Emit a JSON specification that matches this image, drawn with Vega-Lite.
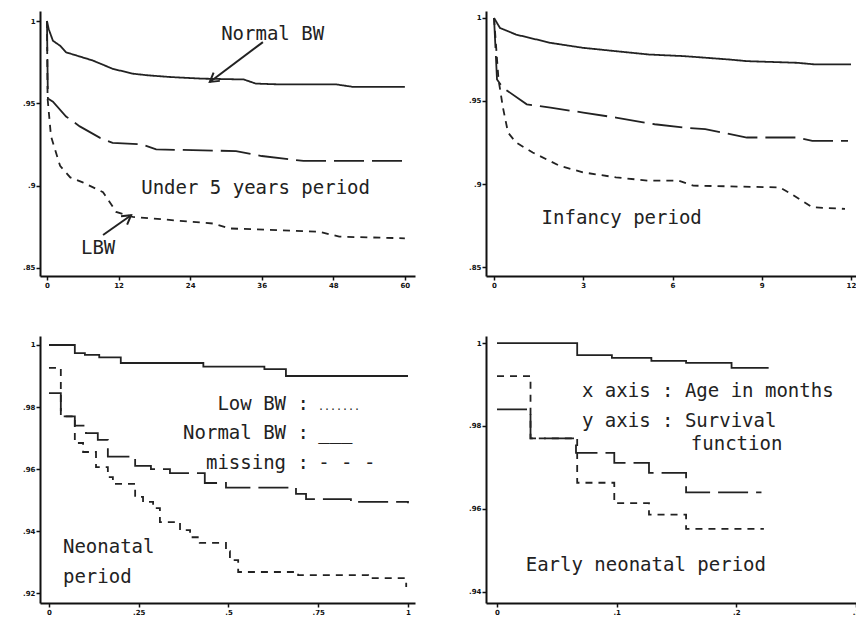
{
  "$schema": "https://vega.github.io/schema/vega-lite/v6.json",
  "background": "white",
  "padding": {"left": 22, "top": 11, "right": 0, "bottom": 0},
  "config": {
    "view": {"stroke": null},
    "axis": {"grid": false, "domainColor": "#111", "domainWidth": 2, "tickColor": "#111", "tickWidth": 1.5, "tickSize": 4, "labelPadding": 1, "labelFontSize": 7, "labelFont": "DejaVu Sans", "labelFontWeight": "bold", "labelColor": "#111", "labelFlush": false, "labelOverlap": false, "title": null,
      "labelExpr": "datum.value > 0 && datum.value < 1 ? slice(toString(datum.value), 1) : toString(datum.value)"},
    "text": {"font": "DejaVu Sans Mono", "fontSize": 19, "color": "#222"}
  },
  "datasets": {
    "curves": [
      {"panel":"u5","group":"Normal BW","t":0,"s":1},{"panel":"u5","group":"Normal BW","t":0.3,"s":0.995},{"panel":"u5","group":"Normal BW","t":1,"s":0.988},{"panel":"u5","group":"Normal BW","t":2.2,"s":0.985},{"panel":"u5","group":"Normal BW","t":3.2,"s":0.981},{"panel":"u5","group":"Normal BW","t":5,"s":0.979},{"panel":"u5","group":"Normal BW","t":7.7,"s":0.976},{"panel":"u5","group":"Normal BW","t":11,"s":0.971},{"panel":"u5","group":"Normal BW","t":14.4,"s":0.968},{"panel":"u5","group":"Normal BW","t":17,"s":0.967},{"panel":"u5","group":"Normal BW","t":20.6,"s":0.966},{"panel":"u5","group":"Normal BW","t":26,"s":0.965},{"panel":"u5","group":"Normal BW","t":33,"s":0.9645},{"panel":"u5","group":"Normal BW","t":35,"s":0.962},{"panel":"u5","group":"Normal BW","t":39,"s":0.9615},{"panel":"u5","group":"Normal BW","t":48.5,"s":0.9615},{"panel":"u5","group":"Normal BW","t":51.3,"s":0.96},{"panel":"u5","group":"Normal BW","t":60,"s":0.96},
      {"panel":"u5","group":"missing","t":0,"s":1},{"panel":"u5","group":"missing","t":0.15,"s":0.953},{"panel":"u5","group":"missing","t":1,"s":0.951},{"panel":"u5","group":"missing","t":3.2,"s":0.942},{"panel":"u5","group":"missing","t":5.5,"s":0.936},{"panel":"u5","group":"missing","t":8.9,"s":0.929},{"panel":"u5","group":"missing","t":11,"s":0.926},{"panel":"u5","group":"missing","t":16,"s":0.925},{"panel":"u5","group":"missing","t":18.3,"s":0.922},{"panel":"u5","group":"missing","t":31.7,"s":0.921},{"panel":"u5","group":"missing","t":36,"s":0.918},{"panel":"u5","group":"missing","t":43,"s":0.915},{"panel":"u5","group":"missing","t":60,"s":0.915},
      {"panel":"u5","group":"Low BW","t":0,"s":1},{"panel":"u5","group":"Low BW","t":0.1,"s":0.953},{"panel":"u5","group":"Low BW","t":0.67,"s":0.93},{"panel":"u5","group":"Low BW","t":2.2,"s":0.912},{"panel":"u5","group":"Low BW","t":3.9,"s":0.905},{"panel":"u5","group":"Low BW","t":6,"s":0.902},{"panel":"u5","group":"Low BW","t":9.4,"s":0.896},{"panel":"u5","group":"Low BW","t":10.7,"s":0.889},{"panel":"u5","group":"Low BW","t":11.6,"s":0.884},{"panel":"u5","group":"Low BW","t":14.4,"s":0.881},{"panel":"u5","group":"Low BW","t":27.8,"s":0.877},{"panel":"u5","group":"Low BW","t":30.6,"s":0.874},{"panel":"u5","group":"Low BW","t":45.7,"s":0.872},{"panel":"u5","group":"Low BW","t":49,"s":0.869},{"panel":"u5","group":"Low BW","t":60,"s":0.868},
      {"panel":"inf","group":"Normal BW","t":0,"s":1},{"panel":"inf","group":"Normal BW","t":0.2,"s":0.994},{"panel":"inf","group":"Normal BW","t":0.74,"s":0.99},{"panel":"inf","group":"Normal BW","t":1.9,"s":0.985},{"panel":"inf","group":"Normal BW","t":3,"s":0.982},{"panel":"inf","group":"Normal BW","t":4.1,"s":0.98},{"panel":"inf","group":"Normal BW","t":5.2,"s":0.978},{"panel":"inf","group":"Normal BW","t":6.4,"s":0.977},{"panel":"inf","group":"Normal BW","t":7.9,"s":0.975},{"panel":"inf","group":"Normal BW","t":8.5,"s":0.974},{"panel":"inf","group":"Normal BW","t":10.2,"s":0.973},{"panel":"inf","group":"Normal BW","t":10.8,"s":0.972},{"panel":"inf","group":"Normal BW","t":12,"s":0.972},
      {"panel":"inf","group":"missing","t":0,"s":1},{"panel":"inf","group":"missing","t":0.1,"s":0.963},{"panel":"inf","group":"missing","t":0.3,"s":0.958},{"panel":"inf","group":"missing","t":1.1,"s":0.948},{"panel":"inf","group":"missing","t":1.9,"s":0.946},{"panel":"inf","group":"missing","t":3,"s":0.943},{"panel":"inf","group":"missing","t":4.1,"s":0.94},{"panel":"inf","group":"missing","t":5.4,"s":0.936},{"panel":"inf","group":"missing","t":6.4,"s":0.934},{"panel":"inf","group":"missing","t":7.1,"s":0.933},{"panel":"inf","group":"missing","t":8.5,"s":0.928},{"panel":"inf","group":"missing","t":10.2,"s":0.928},{"panel":"inf","group":"missing","t":10.7,"s":0.926},{"panel":"inf","group":"missing","t":11.9,"s":0.926},
      {"panel":"inf","group":"Low BW","t":0,"s":1},{"panel":"inf","group":"Low BW","t":0.15,"s":0.963},{"panel":"inf","group":"Low BW","t":0.3,"s":0.946},{"panel":"inf","group":"Low BW","t":0.47,"s":0.931},{"panel":"inf","group":"Low BW","t":0.74,"s":0.925},{"panel":"inf","group":"Low BW","t":1.3,"s":0.919},{"panel":"inf","group":"Low BW","t":2.2,"s":0.911},{"panel":"inf","group":"Low BW","t":3,"s":0.907},{"panel":"inf","group":"Low BW","t":4.1,"s":0.904},{"panel":"inf","group":"Low BW","t":5.2,"s":0.902},{"panel":"inf","group":"Low BW","t":6.2,"s":0.902},{"panel":"inf","group":"Low BW","t":6.7,"s":0.899},{"panel":"inf","group":"Low BW","t":9.6,"s":0.898},{"panel":"inf","group":"Low BW","t":9.9,"s":0.895},{"panel":"inf","group":"Low BW","t":10.7,"s":0.886},{"panel":"inf","group":"Low BW","t":11.8,"s":0.885},
      {"panel":"neo","group":"Normal BW","t":0,"s":1},{"panel":"neo","group":"Normal BW","t":0.072,"s":0.9974},{"panel":"neo","group":"Normal BW","t":0.1,"s":0.9968},{"panel":"neo","group":"Normal BW","t":0.14,"s":0.996},{"panel":"neo","group":"Normal BW","t":0.2,"s":0.9942},{"panel":"neo","group":"Normal BW","t":0.43,"s":0.993},{"panel":"neo","group":"Normal BW","t":0.6,"s":0.9922},{"panel":"neo","group":"Normal BW","t":0.66,"s":0.99},{"panel":"neo","group":"Normal BW","t":1.0,"s":0.99},
      {"panel":"neo","group":"missing","t":0,"s":0.9845},{"panel":"neo","group":"missing","t":0.033,"s":0.977},{"panel":"neo","group":"missing","t":0.072,"s":0.974},{"panel":"neo","group":"missing","t":0.103,"s":0.9716},{"panel":"neo","group":"missing","t":0.136,"s":0.9694},{"panel":"neo","group":"missing","t":0.164,"s":0.964},{"panel":"neo","group":"missing","t":0.24,"s":0.961},{"panel":"neo","group":"missing","t":0.284,"s":0.96},{"panel":"neo","group":"missing","t":0.337,"s":0.9587},{"panel":"neo","group":"missing","t":0.434,"s":0.9555},{"panel":"neo","group":"missing","t":0.493,"s":0.954},{"panel":"neo","group":"missing","t":0.688,"s":0.952},{"panel":"neo","group":"missing","t":0.716,"s":0.9503},{"panel":"neo","group":"missing","t":0.841,"s":0.9494},{"panel":"neo","group":"missing","t":1.0,"s":0.949},
      {"panel":"neo","group":"Low BW","t":0,"s":0.9926},{"panel":"neo","group":"Low BW","t":0.033,"s":0.977},{"panel":"neo","group":"Low BW","t":0.072,"s":0.9684},{"panel":"neo","group":"Low BW","t":0.095,"s":0.9655},{"panel":"neo","group":"Low BW","t":0.131,"s":0.9606},{"panel":"neo","group":"Low BW","t":0.164,"s":0.9574},{"panel":"neo","group":"Low BW","t":0.178,"s":0.9552},{"panel":"neo","group":"Low BW","t":0.24,"s":0.951},{"panel":"neo","group":"Low BW","t":0.262,"s":0.9494},{"panel":"neo","group":"Low BW","t":0.29,"s":0.9474},{"panel":"neo","group":"Low BW","t":0.309,"s":0.9429},{"panel":"neo","group":"Low BW","t":0.365,"s":0.9403},{"panel":"neo","group":"Low BW","t":0.393,"s":0.938},{"panel":"neo","group":"Low BW","t":0.42,"s":0.9362},{"panel":"neo","group":"Low BW","t":0.493,"s":0.9335},{"panel":"neo","group":"Low BW","t":0.504,"s":0.9306},{"panel":"neo","group":"Low BW","t":0.527,"s":0.9268},{"panel":"neo","group":"Low BW","t":0.694,"s":0.9258},{"panel":"neo","group":"Low BW","t":0.889,"s":0.9248},{"panel":"neo","group":"Low BW","t":0.995,"s":0.922},
      {"panel":"eneo","group":"Normal BW","t":0,"s":1},{"panel":"eneo","group":"Normal BW","t":0.067,"s":0.9971},{"panel":"eneo","group":"Normal BW","t":0.096,"s":0.9964},{"panel":"eneo","group":"Normal BW","t":0.129,"s":0.9957},{"panel":"eneo","group":"Normal BW","t":0.158,"s":0.9952},{"panel":"eneo","group":"Normal BW","t":0.196,"s":0.994},{"panel":"eneo","group":"Normal BW","t":0.227,"s":0.994},
      {"panel":"eneo","group":"missing","t":0,"s":0.984},{"panel":"eneo","group":"missing","t":0.028,"s":0.977},{"panel":"eneo","group":"missing","t":0.066,"s":0.9735},{"panel":"eneo","group":"missing","t":0.098,"s":0.9711},{"panel":"eneo","group":"missing","t":0.127,"s":0.9687},{"panel":"eneo","group":"missing","t":0.158,"s":0.964},{"panel":"eneo","group":"missing","t":0.221,"s":0.964},
      {"panel":"eneo","group":"Low BW","t":0,"s":0.992},{"panel":"eneo","group":"Low BW","t":0.028,"s":0.977},{"panel":"eneo","group":"Low BW","t":0.067,"s":0.9663},{"panel":"eneo","group":"Low BW","t":0.098,"s":0.9614},{"panel":"eneo","group":"Low BW","t":0.127,"s":0.9586},{"panel":"eneo","group":"Low BW","t":0.158,"s":0.9552},{"panel":"eneo","group":"Low BW","t":0.223,"s":0.9552}
    ],
    "labels": [
      {"panel":"u5","role":"note","t":29.2,"s":0.9921,"label":"Normal BW"},
      {"panel":"u5","role":"note","t":15.8,"s":0.8986,"label":"Under 5 years period"},
      {"panel":"u5","role":"note","t":5.7,"s":0.862,"label":"LBW"},
      {"panel":"inf","role":"note","t":1.6,"s":0.8795,"label":"Infancy period"},
      {"panel":"neo","role":"note","t":0.039,"s":0.9348,"label":"Neonatal"},
      {"panel":"neo","role":"note","t":0.039,"s":0.9252,"label":"period"},
      {"panel":"neo","role":"key","t":0.724,"s":0.979,"label":"Low BW :"},
      {"panel":"neo","role":"key","t":0.724,"s":0.9697,"label":"Normal BW :"},
      {"panel":"neo","role":"key","t":0.724,"s":0.96,"label":"missing :"},
      {"panel":"neo","role":"dots","t":0.749,"s":0.979,"label":"......."},
      {"panel":"neo","role":"sample","t":0.75,"s":0.9697,"label":"___"},
      {"panel":"neo","role":"sample","t":0.75,"s":0.96,"label":"- - -"},
      {"panel":"eneo","role":"note","t":0.071,"s":0.9884,"label":"x axis : Age in months"},
      {"panel":"eneo","role":"note","t":0.071,"s":0.9812,"label":"y axis : Survival"},
      {"panel":"eneo","role":"note","t":0.162,"s":0.9757,"label":"function"},
      {"panel":"eneo","role":"note","t":0.024,"s":0.9465,"label":"Early neonatal period"}
    ],
    "arrows": [
      {"name":"nbw","t":36.2,"s":0.9872,"t2":27.3,"s2":0.963},
      {"name":"lbw","t":9.4,"s":0.87,"t2":14.1,"s2":0.882}
    ]
  },
  "columns": 2,
  "spacing": {"row": 60, "column": 71},
  "bounds": "flush",
  "concat": [
    {
      "width": 375, "height": 265,
      "layer": [
        {"data": {"name": "curves"}, "transform": [{"filter": "datum.panel === 'u5'"}],
         "mark": {"type": "line", "color": "#222", "strokeWidth": 1.8, "interpolate": "linear"},
         "encoding": {
           "x": {"field": "t", "type": "quantitative", "scale": {"domain": [-1.17, 61.7], "nice": false, "zero": false}, "axis": {"values": [0, 12, 24, 36, 48, 60]}},
           "y": {"field": "s", "type": "quantitative", "scale": {"domain": [0.8451, 1.0061], "nice": false, "zero": false}, "axis": {"values": [0.85, 0.9, 0.95, 1]}},
           "detail": {"field": "group"},
           "strokeDash": {"field": "group", "type": "nominal", "scale": {"domain": ["Normal BW", "missing", "Low BW"], "range": [[1, 0], [30, 8], [7, 6]]}, "legend": null}
         }},
        {"data": {"name": "labels"}, "transform": [{"filter": "datum.panel === 'u5'"}],
         "mark": {"type": "text", "align": "left", "baseline": "middle"},
         "encoding": {"x": {"field": "t", "type": "quantitative"}, "y": {"field": "s", "type": "quantitative"}, "text": {"field": "label"}}},
        {"data": {"name": "arrows"},
         "mark": {"type": "rule", "color": "#222", "strokeWidth": 2},
         "encoding": {"x": {"field": "t", "type": "quantitative"}, "y": {"field": "s", "type": "quantitative"}, "x2": {"field": "t2"}, "y2": {"field": "s2"}}},
        {"data": {"name": "arrows"}, "transform": [{"filter": "datum.name === 'nbw'"}],
         "mark": {"type": "point", "shape": "M -0.6 1 L 0 0 L 0.6 1", "filled": false, "stroke": "#222", "strokeWidth": 2, "size": 300, "angle": 233, "opacity": 1},
         "encoding": {"x": {"field": "t2", "type": "quantitative"}, "y": {"field": "s2", "type": "quantitative"}}},
        {"data": {"name": "arrows"}, "transform": [{"filter": "datum.name === 'lbw'"}],
         "mark": {"type": "point", "shape": "M -0.6 1 L 0 0 L 0.6 1", "filled": false, "stroke": "#222", "strokeWidth": 2, "size": 300, "angle": 54, "opacity": 1},
         "encoding": {"x": {"field": "t2", "type": "quantitative"}, "y": {"field": "s2", "type": "quantitative"}}}
      ]
    },
    {
      "width": 373, "height": 265,
      "layer": [
        {"data": {"name": "curves"}, "transform": [{"filter": "datum.panel === 'inf'"}],
         "mark": {"type": "line", "color": "#222", "strokeWidth": 1.8, "interpolate": "linear"},
         "encoding": {
           "x": {"field": "t", "type": "quantitative", "scale": {"domain": [-0.27, 12.27], "nice": false, "zero": false}, "axis": {"values": [0, 3, 6, 9, 12]}},
           "y": {"field": "s", "type": "quantitative", "scale": {"domain": [0.8446, 1.0042], "nice": false, "zero": false}, "axis": {"values": [0.85, 0.9, 0.95, 1]}},
           "detail": {"field": "group"},
           "strokeDash": {"field": "group", "type": "nominal", "scale": {"domain": ["Normal BW", "missing", "Low BW"], "range": [[1, 0], [30, 8], [7, 6]]}, "legend": null}
         }},
        {"data": {"name": "labels"}, "transform": [{"filter": "datum.panel === 'inf'"}],
         "mark": {"type": "text", "align": "left", "baseline": "middle"},
         "encoding": {"x": {"field": "t", "type": "quantitative"}, "y": {"field": "s", "type": "quantitative"}, "text": {"field": "label"}}}
      ]
    },
    {
      "width": 375, "height": 267,
      "layer": [
        {"data": {"name": "curves"}, "transform": [{"filter": "datum.panel === 'neo'"}],
         "mark": {"type": "line", "color": "#222", "strokeWidth": 1.8, "interpolate": "step-after"},
         "encoding": {
           "x": {"field": "t", "type": "quantitative", "scale": {"domain": [-0.025, 1.0195], "nice": false, "zero": false}, "axis": {"values": [0, 0.25, 0.5, 0.75, 1]}},
           "y": {"field": "s", "type": "quantitative", "scale": {"domain": [0.9168, 1.0029], "nice": false, "zero": false}, "axis": {"values": [0.92, 0.94, 0.96, 0.98, 1]}},
           "detail": {"field": "group"},
           "strokeDash": {"field": "group", "type": "nominal", "scale": {"domain": ["Normal BW", "missing", "Low BW"], "range": [[1, 0], [30, 8], [6, 5]]}, "legend": null}
         }},
        {"data": {"name": "labels"}, "transform": [{"filter": "datum.panel === 'neo' && datum.role === 'note'"}],
         "mark": {"type": "text", "align": "left", "baseline": "middle"},
         "encoding": {"x": {"field": "t", "type": "quantitative"}, "y": {"field": "s", "type": "quantitative"}, "text": {"field": "label"}}},
        {"data": {"name": "labels"}, "transform": [{"filter": "datum.panel === 'neo' && datum.role === 'key'"}],
         "mark": {"type": "text", "align": "right", "baseline": "alphabetic"},
         "encoding": {"x": {"field": "t", "type": "quantitative"}, "y": {"field": "s", "type": "quantitative"}, "text": {"field": "label"}}},
        {"data": {"name": "labels"}, "transform": [{"filter": "datum.panel === 'neo' && datum.role === 'sample'"}],
         "mark": {"type": "text", "align": "left", "baseline": "alphabetic"},
         "encoding": {"x": {"field": "t", "type": "quantitative"}, "y": {"field": "s", "type": "quantitative"}, "text": {"field": "label"}}},
        {"data": {"name": "labels"}, "transform": [{"filter": "datum.panel === 'neo' && datum.role === 'dots'"}],
         "mark": {"type": "text", "align": "left", "baseline": "alphabetic", "fontSize": 10},
         "encoding": {"x": {"field": "t", "type": "quantitative"}, "y": {"field": "s", "type": "quantitative"}, "text": {"field": "label"}}}
      ]
    },
    {
      "width": 373, "height": 267,
      "layer": [
        {"data": {"name": "curves"}, "transform": [{"filter": "datum.panel === 'eneo'"}],
         "mark": {"type": "line", "color": "#222", "strokeWidth": 1.8, "interpolate": "step-after"},
         "encoding": {
           "x": {"field": "t", "type": "quantitative", "scale": {"domain": [-0.0092, 0.3025], "nice": false, "zero": false}, "axis": {"values": [0, 0.1, 0.2, 0.3]}},
           "y": {"field": "s", "type": "quantitative", "scale": {"domain": [0.9373, 1.0017], "nice": false, "zero": false}, "axis": {"values": [0.94, 0.96, 0.98, 1]}},
           "detail": {"field": "group"},
           "strokeDash": {"field": "group", "type": "nominal", "scale": {"domain": ["Normal BW", "missing", "Low BW"], "range": [[1, 0], [28, 7], [7, 5]]}, "legend": null}
         }},
        {"data": {"name": "labels"}, "transform": [{"filter": "datum.panel === 'eneo'"}],
         "mark": {"type": "text", "align": "left", "baseline": "middle"},
         "encoding": {"x": {"field": "t", "type": "quantitative"}, "y": {"field": "s", "type": "quantitative"}, "text": {"field": "label"}}}
      ]
    }
  ]
}
